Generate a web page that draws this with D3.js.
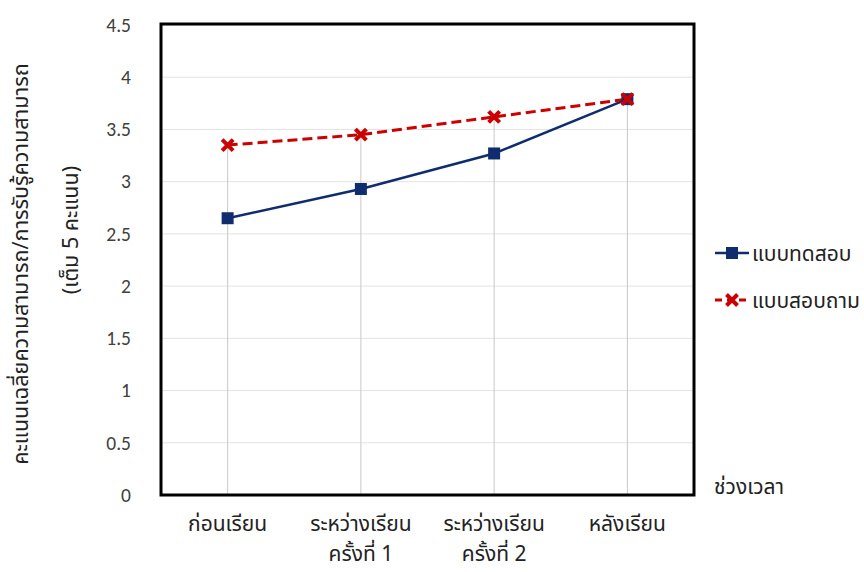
<!DOCTYPE html>
<html><head><meta charset="utf-8">
<script src="https://cdn.jsdelivr.net/npm/d3@7"></script>
<style>
body{margin:0;background:#fff;}
text{font-family:"Noto Sans Thai","Noto Sans","Leelawadee UI",Tahoma,sans-serif;}
</style></head>
<body><svg id="c" width="864" height="572"></svg>
<script>
const categories = [["ก่อนเรียน"],["ระหว่างเรียน","ครั้งที่ 1"],["ระหว่างเรียน","ครั้งที่ 2"],["หลังเรียน"]];
const seriesNames = ["แบบทดสอบ","แบบสอบถาม"];
const testScores = [2.65, 2.93, 3.27, 3.79];
const surveyScores = [3.35, 3.45, 3.62, 3.79];
const yTicks = [0,0.5,1,1.5,2,2.5,3,3.5,4,4.5];
const yTitle = ["คะแนนเฉลี่ยความสามารถ/การรับรู้ความสามารถ","(เต็ม 5 คะแนน)"];
const xTitle = "ช่วงเวลา";

const svg = d3.select("#c");
const L=161, R=694, T=25, B=495;
const x = d3.scalePoint().domain(d3.range(categories.length)).range([L,R]).padding(0.5);
const y = d3.scaleLinear().domain([0,4.5]).range([B,T]);
const navy="#0f2d6e", red="#cc0000";

// horizontal gridlines
svg.append("g").selectAll("line").data(yTicks).join("line")
  .attr("x1",L).attr("x2",R).attr("y1",d=>y(d)).attr("y2",d=>y(d))
  .attr("stroke","#e3e3e3").attr("stroke-width",1);
// drop lines
svg.append("g").selectAll("line").data(d3.range(categories.length)).join("line")
  .attr("x1",i=>x(i)).attr("x2",i=>x(i)).attr("y1",i=>y(Math.max(testScores[i],surveyScores[i]))).attr("y2",B)
  .attr("stroke","#c8c8c8").attr("stroke-width",1);

// y axis tick labels
const ya = svg.append("g").attr("transform",`translate(${L},0)`).call(d3.axisLeft(y).tickValues(yTicks).tickSize(0).tickPadding(30).tickFormat(d=>d));
ya.select(".domain").remove();
ya.selectAll("text").attr("font-size",19.5).attr("fill","#404040").style("font-family","Carlito,Calibri,'Liberation Sans',sans-serif");

// frame
svg.append("rect").attr("x",L).attr("y",T-1).attr("width",R-L).attr("height",B-T+1)
  .attr("fill","none").attr("stroke","#000").attr("stroke-width",3);

// lines
const line = d3.line().x((d,i)=>x(i)).y(d=>y(d));
svg.append("path").datum(testScores).attr("d",line).attr("fill","none").attr("stroke",navy).attr("stroke-width",2.5);
svg.append("path").datum(surveyScores).attr("d",line).attr("fill","none").attr("stroke",red).attr("stroke-width",3).attr("stroke-dasharray","10,5");

// markers
svg.append("g").selectAll("rect").data(testScores).join("rect")
  .attr("x",(d,i)=>x(i)-6).attr("y",d=>y(d)-6).attr("width",12).attr("height",12).attr("fill",navy);
svg.append("g").selectAll("path").data(surveyScores).join("path")
  .attr("d",(d,i)=>{const cx=x(i),cy=y(d),s=5.5;return `M${cx-s},${cy-s}L${cx+s},${cy+s}M${cx-s},${cy+s}L${cx+s},${cy-s}`;})
  .attr("stroke",red).attr("stroke-width",4).attr("fill","none");

// x labels
categories.forEach((lines,i)=>{
  lines.forEach((t,j)=>{
    svg.append("text").attr("x",x(i)).attr("y",531+j*29.5).attr("text-anchor","middle")
      .attr("font-size",21).attr("fill","#222").text(t);
  });
});
svg.append("text").attr("x",714).attr("y",494).attr("font-size",21).attr("fill","#222").text(xTitle);

// y title
svg.append("text").attr("transform",`translate(28,264) rotate(-90)`).attr("text-anchor","middle")
  .attr("font-size",21.5).attr("fill","#222").text(yTitle[0]);
svg.append("text").attr("transform",`translate(78,230) rotate(-90)`).attr("text-anchor","middle")
  .attr("font-size",21.5).attr("fill","#222").text(yTitle[1]);

// legend
const lg = svg.append("g");
lg.append("line").attr("x1",715).attr("x2",749).attr("y1",253).attr("y2",253).attr("stroke",navy).attr("stroke-width",2.5);
lg.append("rect").attr("x",726).attr("y",247).attr("width",12).attr("height",12).attr("fill",navy);
lg.append("text").attr("x",752).attr("y",261).attr("font-size",21).attr("fill","#222").text(seriesNames[0]);
lg.append("line").attr("x1",715).attr("x2",749).attr("y1",300).attr("y2",300).attr("stroke",red).attr("stroke-width",3).attr("stroke-dasharray","7,5");
lg.append("path").attr("d","M726.5,294.5L737.5,305.5M726.5,305.5L737.5,294.5").attr("stroke",red).attr("stroke-width",4);
lg.append("text").attr("x",752).attr("y",308).attr("font-size",21).attr("fill","#222").text(seriesNames[1]);
</script></body></html>
